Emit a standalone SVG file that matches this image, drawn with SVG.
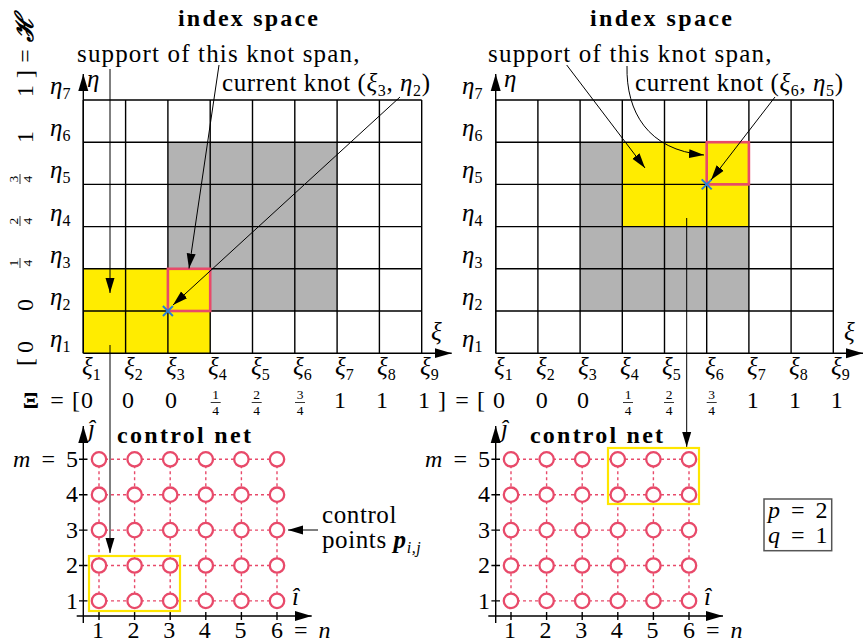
<svg xmlns="http://www.w3.org/2000/svg" width="865" height="642" viewBox="0 0 865 642" font-family="'Liberation Serif', serif">
<style>
text{font-family:"Liberation Serif",serif;fill:#000}
.ann{font-size:25px;letter-spacing:0.6px}
.ttl{font-size:24px;font-weight:bold}
.it{font-style:italic}
.lab{font-size:25px}
.sub{font-size:16px;font-style:normal}
.val{font-size:24px}
.fr{font-size:13.5px}
.tick{font-size:24px;word-spacing:5px}
.grid{fill:none;stroke:#000;stroke-width:1.4}
.arr{fill:none;stroke:#000;stroke-width:1}
.axis{fill:none;stroke:#000;stroke-width:1.4}
.gray{fill:#b3b3b3}
.yel{fill:#ffec00}
.red{fill:none;stroke:#e84a6a;stroke-width:2.6}
.cross{stroke:#2a7fd4;stroke-width:2}
.dot{fill:none;stroke:#e84a6a;stroke-width:1.4;stroke-dasharray:3 3}
.cp{fill:#fff;stroke:#e84a6a;stroke-width:2.3}
.ybox{fill:none;stroke:#ffe600;stroke-width:2.2}
.bar{stroke:#000;stroke-width:0.8}
</style>
<defs>
<marker id="ah" markerUnits="userSpaceOnUse" markerWidth="16" markerHeight="10" refX="15" refY="5" orient="auto"><path d="M0,0.5 L15,5 L0,9.5 z" fill="#000"/></marker>
<marker id="axh" markerUnits="userSpaceOnUse" markerWidth="18" markerHeight="11" refX="17" refY="5.5" orient="auto"><path d="M0,0.5 L17,5.5 L0,10.5 z" fill="#000"/></marker>
</defs>

<!-- titles -->
<text class="ttl" x="178" y="26" textLength="140">index space</text>
<text class="ttl" x="590" y="26" textLength="142">index space</text>

<!-- left index space -->
<g id="left-index">
<rect class="gray" x="167.9" y="142.2" width="169.2" height="168.8"/>
<rect class="yel" x="83.3" y="268.8" width="126.9" height="84.4"/>
<path class="grid" d="M83.3 100V353.2M125.6 100V353.2M167.9 100V353.2M210.2 100V353.2M252.5 100V353.2M294.8 100V353.2M337.1 100V353.2M379.4 100V353.2M421.7 100V353.2M83.3 100H421.7M83.3 142.2H421.7M83.3 184.4H421.7M83.3 226.6H421.7M83.3 268.8H421.7M83.3 311H421.7"/>
<rect class="red" x="167.9" y="268.8" width="42.3" height="42.2"/>
<path class="cross" d="M162.9 306L172.9 316M162.9 316L172.9 306"/>
<line class="axis" x1="83.3" y1="353.2" x2="83.3" y2="74" marker-end="url(#axh)"/>
<line class="axis" x1="83.3" y1="353.2" x2="451.7" y2="353.2" marker-end="url(#axh)"/>
<text class="lab it" x="87" y="87">η</text>
<text class="lab it" x="431" y="340">ξ</text>
<text class="lab" x="50" y="94"><tspan class="it">η</tspan><tspan class="sub" dy="5">7</tspan></text>
<text class="lab" x="50" y="136.2"><tspan class="it">η</tspan><tspan class="sub" dy="5">6</tspan></text>
<text class="lab" x="50" y="178.4"><tspan class="it">η</tspan><tspan class="sub" dy="5">5</tspan></text>
<text class="lab" x="50" y="220.6"><tspan class="it">η</tspan><tspan class="sub" dy="5">4</tspan></text>
<text class="lab" x="50" y="262.8"><tspan class="it">η</tspan><tspan class="sub" dy="5">3</tspan></text>
<text class="lab" x="50" y="305"><tspan class="it">η</tspan><tspan class="sub" dy="5">2</tspan></text>
<text class="lab" x="50" y="347.2"><tspan class="it">η</tspan><tspan class="sub" dy="5">1</tspan></text>
<text class="lab" x="82" y="375"><tspan class="it">ξ</tspan><tspan class="sub" dy="5">1</tspan></text>
<text class="lab" x="124" y="375"><tspan class="it">ξ</tspan><tspan class="sub" dy="5">2</tspan></text>
<text class="lab" x="166" y="375"><tspan class="it">ξ</tspan><tspan class="sub" dy="5">3</tspan></text>
<text class="lab" x="208" y="375"><tspan class="it">ξ</tspan><tspan class="sub" dy="5">4</tspan></text>
<text class="lab" x="251" y="375"><tspan class="it">ξ</tspan><tspan class="sub" dy="5">5</tspan></text>
<text class="lab" x="293" y="375"><tspan class="it">ξ</tspan><tspan class="sub" dy="5">6</tspan></text>
<text class="lab" x="335" y="375"><tspan class="it">ξ</tspan><tspan class="sub" dy="5">7</tspan></text>
<text class="lab" x="377" y="375"><tspan class="it">ξ</tspan><tspan class="sub" dy="5">8</tspan></text>
<text class="lab" x="420" y="375"><tspan class="it">ξ</tspan><tspan class="sub" dy="5">9</tspan></text>
</g>

<!-- right index space -->
<g id="right-index">
<rect class="gray" x="580.1" y="142.2" width="168.8" height="168.8"/>
<rect class="yel" x="622.3" y="142.2" width="126.6" height="84.4"/>
<path class="grid" d="M495.7 100V353.2M537.9 100V353.2M580.1 100V353.2M622.3 100V353.2M664.5 100V353.2M706.7 100V353.2M748.9 100V353.2M791.1 100V353.2M833.3 100V353.2M495.7 100H833.3M495.7 142.2H833.3M495.7 184.4H833.3M495.7 226.6H833.3M495.7 268.8H833.3M495.7 311H833.3"/>
<rect class="red" x="706.7" y="142.2" width="42.2" height="42.2"/>
<path class="cross" d="M701.7 179.4L711.7 189.4M701.7 189.4L711.7 179.4"/>
<line class="axis" x1="495.7" y1="353.2" x2="495.7" y2="74" marker-end="url(#axh)"/>
<line class="axis" x1="495.7" y1="353.2" x2="863" y2="353.2" marker-end="url(#axh)"/>
<text class="lab it" x="504" y="87">η</text>
<text class="lab it" x="844" y="340">ξ</text>
<text class="lab" x="462" y="94"><tspan class="it">η</tspan><tspan class="sub" dy="5">7</tspan></text>
<text class="lab" x="462" y="136.2"><tspan class="it">η</tspan><tspan class="sub" dy="5">6</tspan></text>
<text class="lab" x="462" y="178.4"><tspan class="it">η</tspan><tspan class="sub" dy="5">5</tspan></text>
<text class="lab" x="462" y="220.6"><tspan class="it">η</tspan><tspan class="sub" dy="5">4</tspan></text>
<text class="lab" x="462" y="262.8"><tspan class="it">η</tspan><tspan class="sub" dy="5">3</tspan></text>
<text class="lab" x="462" y="305"><tspan class="it">η</tspan><tspan class="sub" dy="5">2</tspan></text>
<text class="lab" x="462" y="347.2"><tspan class="it">η</tspan><tspan class="sub" dy="5">1</tspan></text>
<text class="lab" x="494" y="375"><tspan class="it">ξ</tspan><tspan class="sub" dy="5">1</tspan></text>
<text class="lab" x="536" y="375"><tspan class="it">ξ</tspan><tspan class="sub" dy="5">2</tspan></text>
<text class="lab" x="578" y="375"><tspan class="it">ξ</tspan><tspan class="sub" dy="5">3</tspan></text>
<text class="lab" x="620" y="375"><tspan class="it">ξ</tspan><tspan class="sub" dy="5">4</tspan></text>
<text class="lab" x="662" y="375"><tspan class="it">ξ</tspan><tspan class="sub" dy="5">5</tspan></text>
<text class="lab" x="705" y="375"><tspan class="it">ξ</tspan><tspan class="sub" dy="5">6</tspan></text>
<text class="lab" x="747" y="375"><tspan class="it">ξ</tspan><tspan class="sub" dy="5">7</tspan></text>
<text class="lab" x="789" y="375"><tspan class="it">ξ</tspan><tspan class="sub" dy="5">8</tspan></text>
<text class="lab" x="831" y="375"><tspan class="it">ξ</tspan><tspan class="sub" dy="5">9</tspan></text>
</g>

<!-- eta knot vector (rotated) -->
<g id="eta-vector" class="val">
<text transform="translate(33,29) rotate(-90)" text-anchor="middle" font-weight="bold" font-style="italic" font-size="25">ℋ</text>
<text transform="translate(33,56) rotate(-90)" text-anchor="middle">=</text>
<text transform="translate(33,74) rotate(-90)" text-anchor="middle">]</text>
<text transform="translate(33,91) rotate(-90)" text-anchor="middle">1</text>
<text transform="translate(33,137) rotate(-90)" text-anchor="middle">1</text>
<g transform="translate(20,179) rotate(-90)"><text class="fr" x="0" y="-2.5" text-anchor="middle">3</text><line class="bar" x1="-5" y1="0" x2="5" y2="0"/><text class="fr" x="0" y="11.5" text-anchor="middle">4</text></g>
<g transform="translate(20,221) rotate(-90)"><text class="fr" x="0" y="-2.5" text-anchor="middle">2</text><line class="bar" x1="-5" y1="0" x2="5" y2="0"/><text class="fr" x="0" y="11.5" text-anchor="middle">4</text></g>
<g transform="translate(20,263) rotate(-90)"><text class="fr" x="0" y="-2.5" text-anchor="middle">1</text><line class="bar" x1="-5" y1="0" x2="5" y2="0"/><text class="fr" x="0" y="11.5" text-anchor="middle">4</text></g>
<text transform="translate(33,305) rotate(-90)" text-anchor="middle">0</text>
<text transform="translate(33,347) rotate(-90)" text-anchor="middle">0</text>
<text transform="translate(33,362) rotate(-90)" text-anchor="middle">[</text>
</g>

<!-- xi knot vector -->
<g id="xi-vector" class="val">
<text x="31" y="408" text-anchor="middle" font-weight="bold">Ξ</text>
<text x="57" y="408" text-anchor="middle">=</text>
<text x="76" y="408" text-anchor="middle">[</text>
<text x="87" y="408" text-anchor="middle">0</text>
<text x="128" y="408" text-anchor="middle">0</text>
<text x="171" y="408" text-anchor="middle">0</text>
<text class="fr" x="215.7" y="399" text-anchor="middle">1</text><line class="bar" x1="210.7" y1="402.5" x2="220.7" y2="402.5"/><text class="fr" x="215.7" y="415" text-anchor="middle">4</text>
<text class="fr" x="256.7" y="399" text-anchor="middle">2</text><line class="bar" x1="251.7" y1="402.5" x2="261.7" y2="402.5"/><text class="fr" x="256.7" y="415" text-anchor="middle">4</text>
<text class="fr" x="300" y="399" text-anchor="middle">3</text><line class="bar" x1="295" y1="402.5" x2="305" y2="402.5"/><text class="fr" x="300" y="415" text-anchor="middle">4</text>
<text x="340" y="408" text-anchor="middle">1</text>
<text x="382" y="408" text-anchor="middle">1</text>
<text x="424" y="408" text-anchor="middle">1</text>
<text x="442" y="408" text-anchor="middle">]</text>
<text x="462" y="408" text-anchor="middle">=</text>
<text x="481" y="408" text-anchor="middle">[</text>
<text x="499" y="408" text-anchor="middle">0</text>
<text x="541.7" y="408" text-anchor="middle">0</text>
<text x="583" y="408" text-anchor="middle">0</text>
<text class="fr" x="628" y="399" text-anchor="middle">1</text><line class="bar" x1="623" y1="402.5" x2="633" y2="402.5"/><text class="fr" x="628" y="415" text-anchor="middle">4</text>
<text class="fr" x="669" y="399" text-anchor="middle">2</text><line class="bar" x1="664" y1="402.5" x2="674" y2="402.5"/><text class="fr" x="669" y="415" text-anchor="middle">4</text>
<text class="fr" x="711.7" y="399" text-anchor="middle">3</text><line class="bar" x1="706.7" y1="402.5" x2="716.7" y2="402.5"/><text class="fr" x="711.7" y="415" text-anchor="middle">4</text>
<text x="752.7" y="408" text-anchor="middle">1</text>
<text x="795" y="408" text-anchor="middle">1</text>
<text x="836.7" y="408" text-anchor="middle">1</text>
</g>

<!-- annotations -->
<g id="annotations">
<text class="ann" x="77" y="62" textLength="283">support of this knot span,</text>
<text class="ann" x="222" y="91">current knot (<tspan class="it">ξ</tspan><tspan class="sub" dy="5">3</tspan><tspan dy="-5">, </tspan><tspan class="it">η</tspan><tspan class="sub" dy="5">2</tspan><tspan dy="-5">)</tspan></text>
<text class="ann" x="488" y="62" textLength="284">support of this knot span,</text>
<text class="ann" x="635" y="91">current knot (<tspan class="it">ξ</tspan><tspan class="sub" dy="5">6</tspan><tspan dy="-5">, </tspan><tspan class="it">η</tspan><tspan class="sub" dy="5">5</tspan><tspan dy="-5">)</tspan></text>
<text class="ann" x="322" y="523">control</text>
<text class="ann" x="322" y="548">points <tspan font-weight="bold" font-style="italic">p</tspan><tspan class="sub" dy="5" style="font-style:italic">i,j</tspan></text>
</g>

<!-- connectors -->
<g id="connectors">
<path class="arr" d="M110 69V293" marker-end="url(#ah)"/>
<path class="arr" d="M110 345V553" marker-end="url(#ah)"/>
<path class="arr" d="M219 65L189 268.5" marker-end="url(#ah)"/>
<path class="arr" d="M400 97L173 305" marker-end="url(#ah)"/>
<path class="arr" d="M566.7 65L645 168" marker-end="url(#ah)"/>
<path class="arr" d="M627 66C626 112 648 150 704 155" marker-end="url(#ah)"/>
<path class="arr" d="M775 97L711 180" marker-end="url(#ah)"/>
<path class="arr" d="M686.7 218V447" marker-end="url(#ah)"/>
<path class="arr" d="M318 530H288" marker-end="url(#ah)"/>
</g>

<!-- left control net -->
<g id="left-control-net">
<text class="ttl" x="117" y="443" textLength="134">control net</text>
<line class="axis" x1="83.3" y1="623" x2="83.3" y2="426" marker-end="url(#axh)"/>
<line class="axis" x1="76.7" y1="616" x2="311.7" y2="616" marker-end="url(#axh)"/>
<path class="axis" d="M99 612V620M134.6 612V620M170.2 612V620M205.8 612V620M241.4 612V620M277 612V620M79 459.3H87.5M79 494.7H87.5M79 530.1H87.5M79 565.5H87.5M79 600.9H87.5"/>
<path class="dot" d="M99 459.3H277M99 494.7H277M99 530.1H277M99 565.5H277M99 600.9H277M99 459.3V600.9M134.6 459.3V600.9M170.2 459.3V600.9M205.8 459.3V600.9M241.4 459.3V600.9M277 459.3V600.9"/>
<g>
<circle class="cp" cx="99" cy="459.3" r="7.2"/><circle class="cp" cx="134.6" cy="459.3" r="7.2"/><circle class="cp" cx="170.2" cy="459.3" r="7.2"/><circle class="cp" cx="205.8" cy="459.3" r="7.2"/><circle class="cp" cx="241.4" cy="459.3" r="7.2"/><circle class="cp" cx="277" cy="459.3" r="7.2"/>
<circle class="cp" cx="99" cy="494.7" r="7.2"/><circle class="cp" cx="134.6" cy="494.7" r="7.2"/><circle class="cp" cx="170.2" cy="494.7" r="7.2"/><circle class="cp" cx="205.8" cy="494.7" r="7.2"/><circle class="cp" cx="241.4" cy="494.7" r="7.2"/><circle class="cp" cx="277" cy="494.7" r="7.2"/>
<circle class="cp" cx="99" cy="530.1" r="7.2"/><circle class="cp" cx="134.6" cy="530.1" r="7.2"/><circle class="cp" cx="170.2" cy="530.1" r="7.2"/><circle class="cp" cx="205.8" cy="530.1" r="7.2"/><circle class="cp" cx="241.4" cy="530.1" r="7.2"/><circle class="cp" cx="277" cy="530.1" r="7.2"/>
<circle class="cp" cx="99" cy="565.5" r="7.2"/><circle class="cp" cx="134.6" cy="565.5" r="7.2"/><circle class="cp" cx="170.2" cy="565.5" r="7.2"/><circle class="cp" cx="205.8" cy="565.5" r="7.2"/><circle class="cp" cx="241.4" cy="565.5" r="7.2"/><circle class="cp" cx="277" cy="565.5" r="7.2"/>
<circle class="cp" cx="99" cy="600.9" r="7.2"/><circle class="cp" cx="134.6" cy="600.9" r="7.2"/><circle class="cp" cx="170.2" cy="600.9" r="7.2"/><circle class="cp" cx="205.8" cy="600.9" r="7.2"/><circle class="cp" cx="241.4" cy="600.9" r="7.2"/><circle class="cp" cx="277" cy="600.9" r="7.2"/>
</g>
<rect class="ybox" x="89" y="556" width="91" height="55"/>
<text class="lab it" x="88" y="437">ĵ</text>
<text class="lab it" x="292" y="605">î</text>
<text class="tick" x="78" y="467" text-anchor="end"><tspan class="it">m</tspan> = 5</text>
<text class="tick" x="78" y="502.4" text-anchor="end">4</text>
<text class="tick" x="78" y="537.8" text-anchor="end">3</text>
<text class="tick" x="78" y="573.2" text-anchor="end">2</text>
<text class="tick" x="78" y="608.6" text-anchor="end">1</text>
<text class="tick" x="98" y="638" text-anchor="middle">1</text>
<text class="tick" x="133.6" y="638" text-anchor="middle">2</text>
<text class="tick" x="169.2" y="638" text-anchor="middle">3</text>
<text class="tick" x="204.8" y="638" text-anchor="middle">4</text>
<text class="tick" x="240.4" y="638" text-anchor="middle">5</text>
<text class="tick" x="271" y="638">6 = <tspan class="it">n</tspan></text>
</g>

<!-- right control net -->
<g id="right-control-net">
<text class="ttl" x="530" y="443" textLength="133">control net</text>
<line class="axis" x1="495.7" y1="623" x2="495.7" y2="426" marker-end="url(#axh)"/>
<line class="axis" x1="488.3" y1="616" x2="723" y2="616" marker-end="url(#axh)"/>
<path class="axis" d="M511 612V620M546.6 612V620M582.2 612V620M617.8 612V620M653.4 612V620M689 612V620M491.4 459.3H500M491.4 494.7H500M491.4 530.1H500M491.4 565.5H500M491.4 600.9H500"/>
<path class="dot" d="M511 459.3H689M511 494.7H689M511 530.1H689M511 565.5H689M511 600.9H689M511 459.3V600.9M546.6 459.3V600.9M582.2 459.3V600.9M617.8 459.3V600.9M653.4 459.3V600.9M689 459.3V600.9"/>
<g>
<circle class="cp" cx="511" cy="459.3" r="7.2"/><circle class="cp" cx="546.6" cy="459.3" r="7.2"/><circle class="cp" cx="582.2" cy="459.3" r="7.2"/><circle class="cp" cx="617.8" cy="459.3" r="7.2"/><circle class="cp" cx="653.4" cy="459.3" r="7.2"/><circle class="cp" cx="689" cy="459.3" r="7.2"/>
<circle class="cp" cx="511" cy="494.7" r="7.2"/><circle class="cp" cx="546.6" cy="494.7" r="7.2"/><circle class="cp" cx="582.2" cy="494.7" r="7.2"/><circle class="cp" cx="617.8" cy="494.7" r="7.2"/><circle class="cp" cx="653.4" cy="494.7" r="7.2"/><circle class="cp" cx="689" cy="494.7" r="7.2"/>
<circle class="cp" cx="511" cy="530.1" r="7.2"/><circle class="cp" cx="546.6" cy="530.1" r="7.2"/><circle class="cp" cx="582.2" cy="530.1" r="7.2"/><circle class="cp" cx="617.8" cy="530.1" r="7.2"/><circle class="cp" cx="653.4" cy="530.1" r="7.2"/><circle class="cp" cx="689" cy="530.1" r="7.2"/>
<circle class="cp" cx="511" cy="565.5" r="7.2"/><circle class="cp" cx="546.6" cy="565.5" r="7.2"/><circle class="cp" cx="582.2" cy="565.5" r="7.2"/><circle class="cp" cx="617.8" cy="565.5" r="7.2"/><circle class="cp" cx="653.4" cy="565.5" r="7.2"/><circle class="cp" cx="689" cy="565.5" r="7.2"/>
<circle class="cp" cx="511" cy="600.9" r="7.2"/><circle class="cp" cx="546.6" cy="600.9" r="7.2"/><circle class="cp" cx="582.2" cy="600.9" r="7.2"/><circle class="cp" cx="617.8" cy="600.9" r="7.2"/><circle class="cp" cx="653.4" cy="600.9" r="7.2"/><circle class="cp" cx="689" cy="600.9" r="7.2"/>
</g>
<rect class="ybox" x="608" y="448" width="91" height="56"/>
<text class="lab it" x="501" y="437">ĵ</text>
<text class="lab it" x="704" y="605">î</text>
<text class="tick" x="490" y="467" text-anchor="end"><tspan class="it">m</tspan> = 5</text>
<text class="tick" x="490" y="502.4" text-anchor="end">4</text>
<text class="tick" x="490" y="537.8" text-anchor="end">3</text>
<text class="tick" x="490" y="573.2" text-anchor="end">2</text>
<text class="tick" x="490" y="608.6" text-anchor="end">1</text>
<text class="tick" x="510" y="638" text-anchor="middle">1</text>
<text class="tick" x="545.6" y="638" text-anchor="middle">2</text>
<text class="tick" x="581.2" y="638" text-anchor="middle">3</text>
<text class="tick" x="616.8" y="638" text-anchor="middle">4</text>
<text class="tick" x="652.4" y="638" text-anchor="middle">5</text>
<text class="tick" x="683" y="638">6 = <tspan class="it">n</tspan></text>
</g>

<!-- degree box -->
<g id="degree-box">
<rect x="764" y="499" width="67.7" height="51.7" fill="#fff" stroke="#555" stroke-width="1.5"/>
<text class="tick" x="768" y="518"><tspan class="it">p</tspan> = 2</text>
<text class="tick" x="768" y="543"><tspan class="it">q</tspan> = 1</text>
</g>
</svg>
